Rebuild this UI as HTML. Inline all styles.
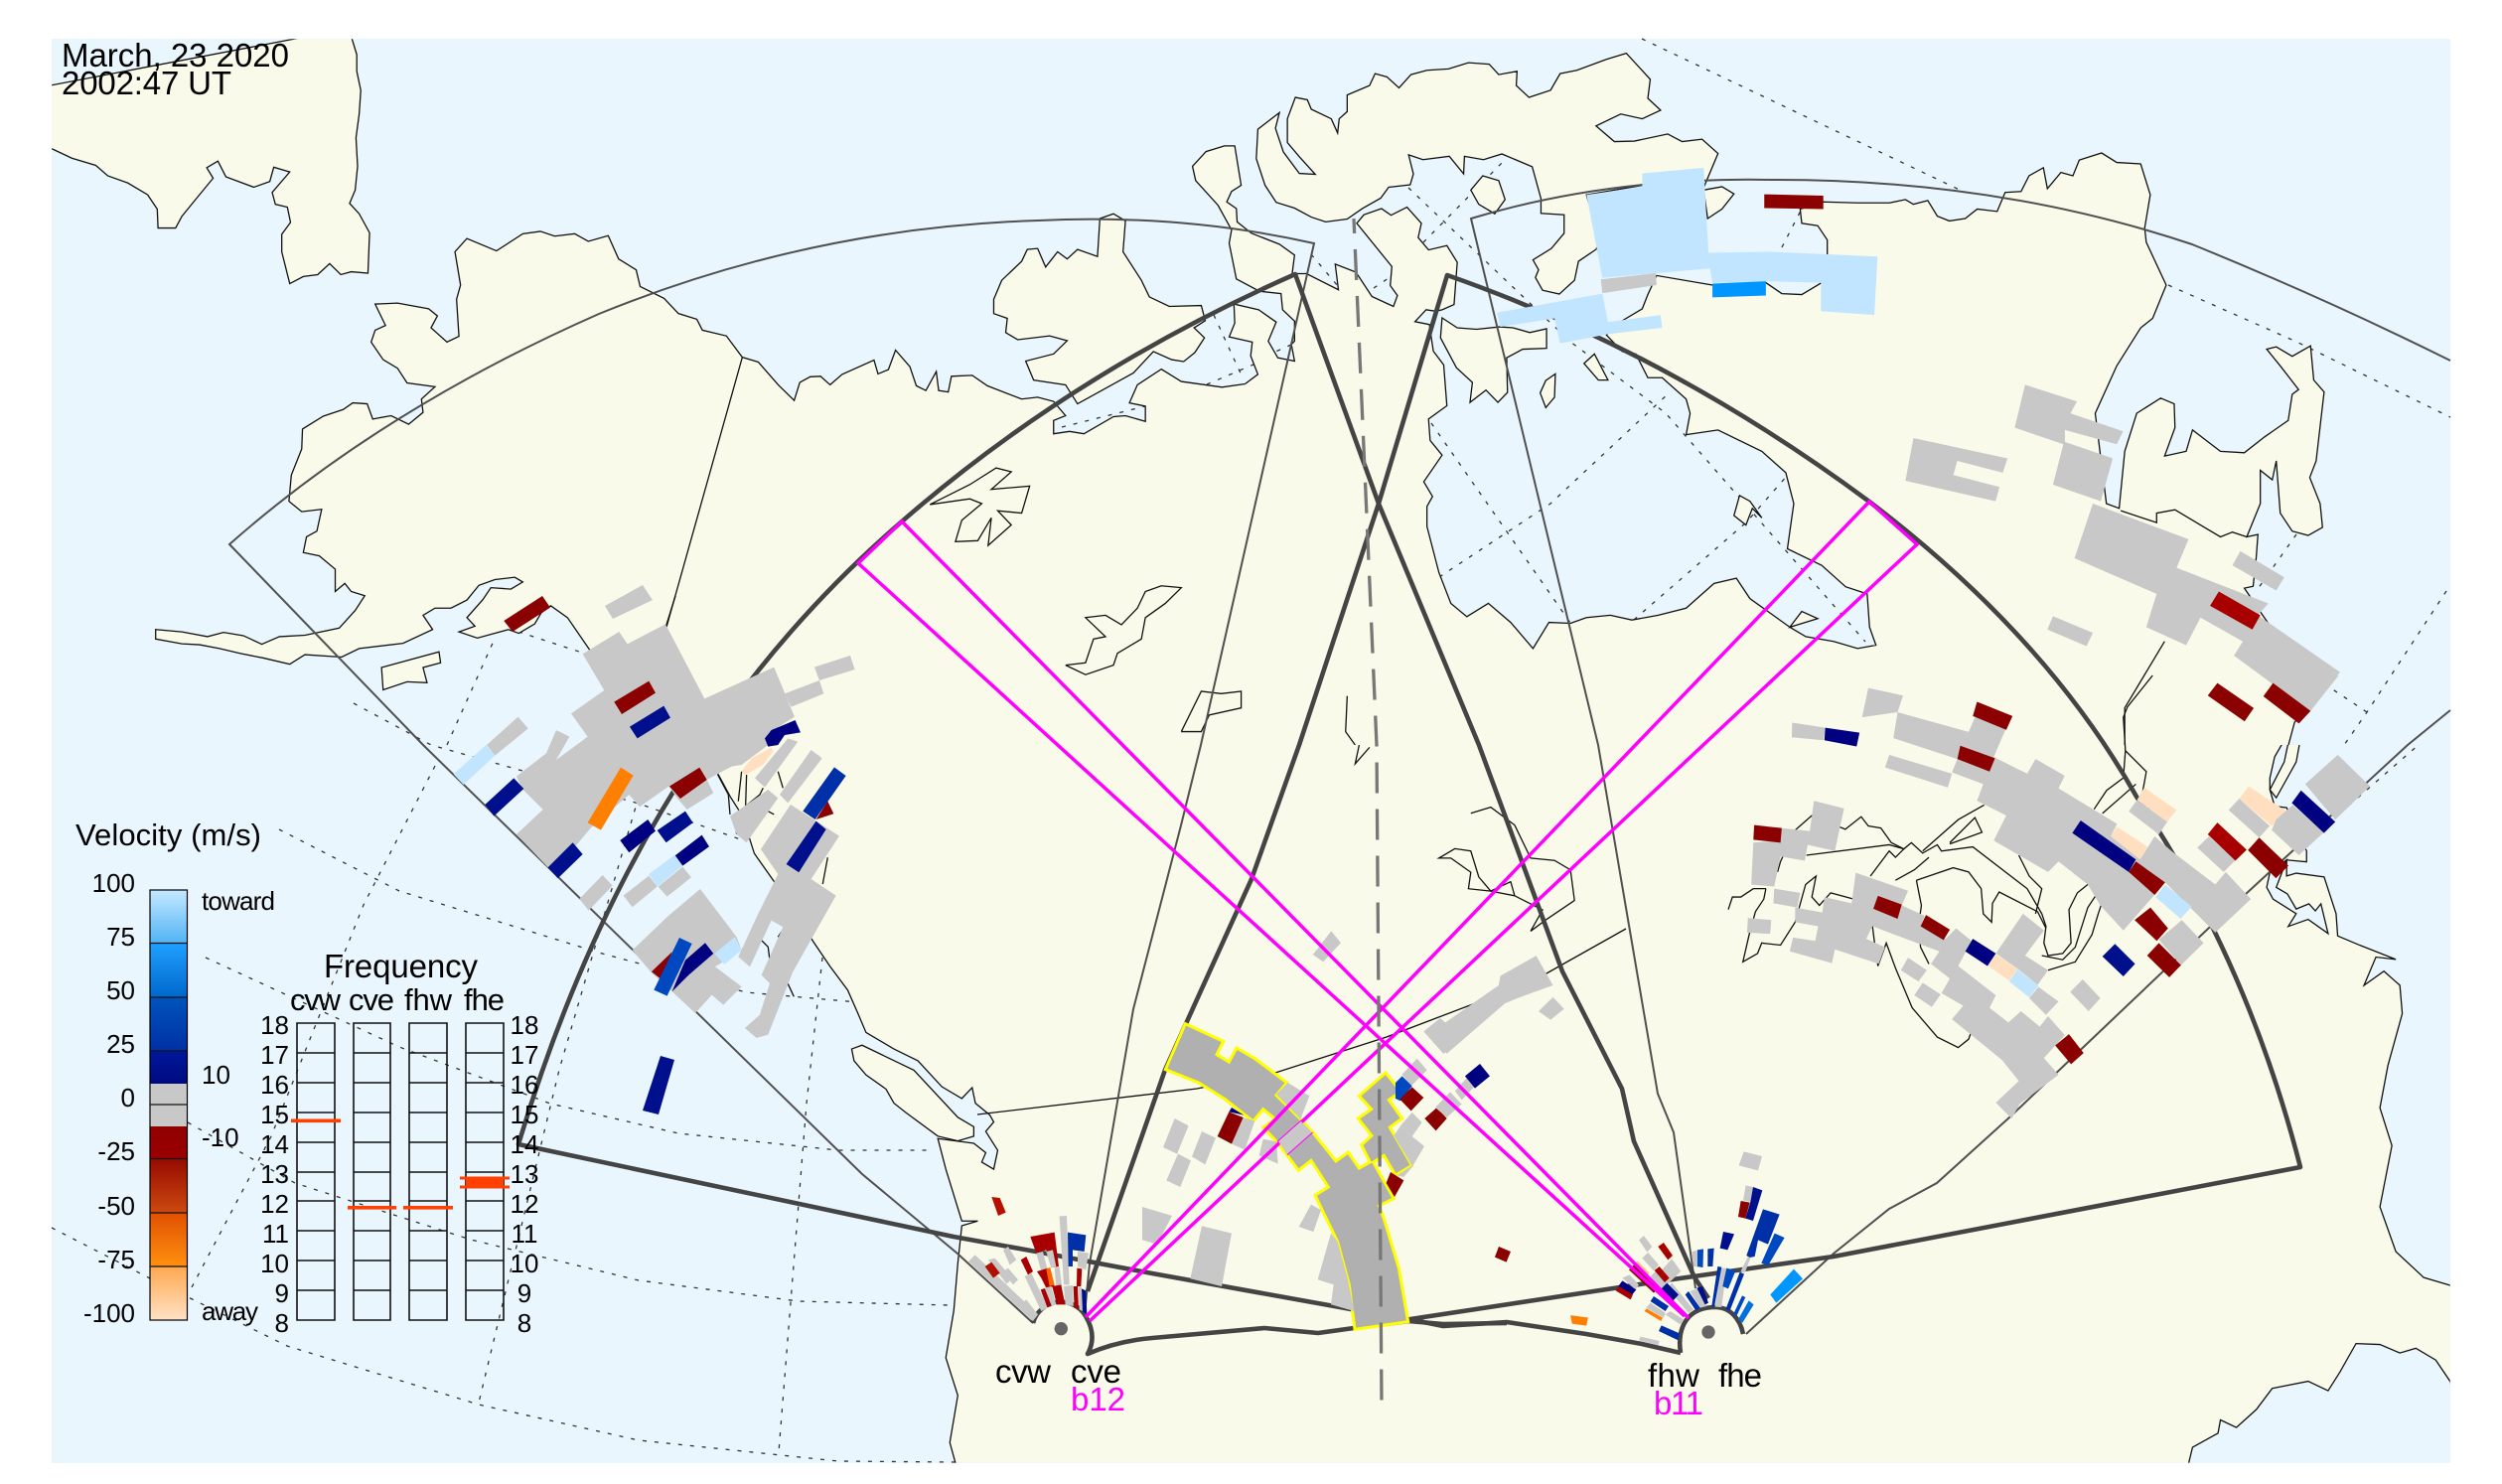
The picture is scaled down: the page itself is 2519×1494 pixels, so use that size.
<!DOCTYPE html>
<html><head><meta charset="utf-8"><style>
html,body{margin:0;padding:0;background:#fff}
svg{display:block}
text{font-family:"Liberation Sans",sans-serif;fill:#000}
.q *{vector-effect:non-scaling-stroke}
.l{fill:#f9fae9;stroke:#111;stroke-width:1.3}
.w{fill:#e9f6fe;stroke:#111;stroke-width:1.3}
.f{fill:#f9fae9;stroke:none}
.c{fill:none;stroke:#111;stroke-width:1.3}
.d{fill:none;stroke:#333;stroke-width:1.3;stroke-dasharray:4 8}
.t{fill:none;stroke:#505050;stroke-width:2}
.k{fill:none;stroke:#444;stroke-width:4.6;stroke-linejoin:round}
.m{fill:none;stroke:#ff00ff;stroke-width:3.5}
.g{fill:#c8c8c8}.r{fill:#8b0000}.R{fill:#a80000}.n{fill:#00108c}.v{fill:#000080}.b{fill:#0030a8}.B{fill:#0048c0}.L{fill:#c2e5ff}.P{fill:#ffdfc0}.O{fill:#ff7f00}.C{fill:#0096ff}
</style></head><body>
<svg xmlns="http://www.w3.org/2000/svg" width="2519" height="1494" viewBox="0 0 2519 1494">
<defs>
<clipPath id="c1"><rect x="65" y="82" width="1503" height="1486"/></clipPath>
<clipPath id="c2"><rect x="-200" y="82" width="1703" height="1486"/></clipPath>
<clipPath id="c3"><rect x="65" y="0" width="1503" height="1523"/></clipPath>
<clipPath id="c4"><rect x="0" y="0" width="1503" height="1523"/></clipPath>
<linearGradient id="cb" gradientUnits="userSpaceOnUse" x1="0" y1="896" x2="0" y2="1329">
<stop offset="0" stop-color="#c5e8ff"/><stop offset=".1236" stop-color="#50b4f5"/>
<stop offset=".1236" stop-color="#20a0ff"/><stop offset=".2494" stop-color="#0068cc"/>
<stop offset=".2494" stop-color="#0054bc"/><stop offset=".3741" stop-color="#0030a4"/>
<stop offset=".3741" stop-color="#00189a"/><stop offset=".4503" stop-color="#000a80"/>
<stop offset=".4503" stop-color="#c8c8c8"/><stop offset=".5497" stop-color="#c8c8c8"/>
<stop offset=".5497" stop-color="#900000"/><stop offset=".6247" stop-color="#9a0000"/>
<stop offset=".6247" stop-color="#960a00"/><stop offset=".7506" stop-color="#cc4a10"/>
<stop offset=".7506" stop-color="#e05000"/><stop offset=".8753" stop-color="#ff9010"/>
<stop offset=".8753" stop-color="#ffa850"/><stop offset="1" stop-color="#ffe2c4"/>
</linearGradient>
</defs>
<rect width="2519" height="1494" fill="#fff"/>
<rect x="52" y="39" width="2415" height="1434" fill="#e9f6fe"/>

<!-- dotted graticule under land -->
<g class="q">
<polyline class="d" points="1653,39 1979,194"/>
<polyline class="d" points="2183,287 2312,344 2467,420"/>
<polyline class="d" points="2463,595 2383,717 2358,753"/>
<polyline class="d" points="2312,538 2273,593"/>
<polyline class="d" points="2383,717 2347,693"/>
<polyline class="d" points="1441,426 1581,627"/>
<polyline class="d" points="1449,581 1561,507 1681,395"/>
<polyline class="d" points="1418,189 1581,344 1677,416 1878,646"/>
<polyline class="d" points="1645,624 1758,526 1800,478"/>
<polyline class="d" points="1433,244 1513,163"/>
<polyline class="d" points="1794,249 1814,210"/>
<polyline class="d" points="1320,256 1347,288"/>
<polyline class="d" points="1383,290 1398,280"/>
<polyline class="d" points="1300,347 1282,355"/>
<polyline class="d" points="281,835 402,897 603,959 751,999 864,1009"/>
<polyline class="d" points="207,964 402,1054 554,1111 683,1141 844,1158 940,1158"/>
<polyline class="d" points="189,1130 297,1191 474,1248 643,1289 804,1310 956,1314"/>
<polyline class="d" points="52,1236 153,1288 289,1355 482,1414 643,1450 844,1471 964,1472"/>
<polyline class="d" points="438,771 366,911 273,1144 193,1296"/>
<polyline class="d" points="643,802 563,1077 482,1412"/>
<polyline class="d" points="828,964 812,1111 784,1462"/>
<polyline class="d" points="450,750 498,643"/>
<polyline class="d" points="522,636 583,656"/>
<polyline class="d" points="356,708 434,750 643,809 751,847"/>
<polyline class="d" points="1069,430 1117,418 1153,409"/>
<polyline class="d" points="1215,387 1262,367"/>
<polyline class="d" points="1222,317 1250,378"/>
</g>

<!-- Q1 -->
<g class="q" transform="matrix(.8036 0 0 .4783 0 0)" clip-path="url(#c1)">
<polygon class="l" points="0,200 437,60 447,115 447,150 452,190 450,240 446,290 448,350 445,400 438,428 450,450 463,490 461,575 440,572 427,578 413,555 398,578 380,582 363,597 353,530 353,493 364,468 360,436 345,430 341,405 363,362 343,352 338,382 318,394 283,372 273,339 259,353 267,375 245,420 228,455 220,480 198,480 197,440 185,410 160,385 135,370 120,348 90,333 65,313 0,280"/>
<polygon class="l" points="195,1325 228,1330 260,1340 280,1331 305,1338 328,1356 350,1340 382,1337 425,1322 445,1285 457,1254 440,1245 432,1228 420,1245 420,1198 400,1170 380,1163 384,1130 397,1118 403,1072 378,1077 362,1055 365,1000 378,945 379,903 405,876 430,862 442,848 460,850 467,882 490,875 512,893 530,868 528,840 545,814 510,806 498,775 480,757 465,720 470,695 483,685 470,640 498,638 537,650 548,665 540,690 560,720 575,708 572,630 577,600 570,530 585,502 622,528 655,492 677,487 695,497 720,492 737,508 762,496 775,545 797,568 802,603 832,628 850,660 873,672 880,695 910,707 930,752 950,762 975,810 995,843 1002,805 1015,793 1028,792 1040,810 1055,788 1095,758 1100,787 1113,778 1122,737 1140,772 1148,812 1160,822 1173,782 1176,822 1188,825 1192,792 1218,790 1237,812 1280,840 1300,836 1320,845 1335,875 1320,885 1320,913 1340,908 1358,913 1395,877 1410,875 1435,887 1435,855 1415,848 1425,810 1455,777 1480,803 1531,815 1560,808 1620,790 1620,1620 861,1620 738,1366 711,1300 690,1275 678,1290 670,1313 650,1333 637,1325 598,1343 575,1330 595,1318 585,1300 605,1262 615,1237 640,1240 655,1225 645,1215 620,1220 600,1232 585,1263 565,1280 545,1280 530,1295 542,1325 505,1354 450,1365 428,1383 382,1378 363,1398 330,1385 300,1375 275,1365 250,1357 228,1355 195,1345"/>
<polygon class="l" points="1378,460 1395,450 1410,465 1407,530 1430,590 1440,625 1465,645 1505,643 1510,675 1496,690 1509,711 1497,742 1483,761 1468,757 1445,740 1420,785 1350,850 1335,810 1295,800 1285,760 1320,745 1337,717 1315,707 1275,715 1260,700 1262,670 1245,660 1245,630 1255,590 1280,550 1287,525 1300,523 1310,562 1325,530 1337,545 1350,525 1375,540"/>
<polygon class="l" points="478,1405 550,1372 552,1395 530,1405 535,1437 510,1435 480,1452"/>
<polyline class="c" points="1165,1062 1215,1020 1248,985 1267,993 1242,1030 1290,1023 1280,1080 1250,1075 1267,1105 1238,1148 1242,1090 1225,1138 1197,1140 1205,1095 1230,1060 1215,1050 1165,1062"/>
<polyline class="c" points="1335,1400 1360,1395 1370,1345 1385,1340 1360,1300 1385,1295 1405,1315 1425,1280 1435,1245 1455,1233 1480,1237 1460,1270 1435,1300 1430,1345 1400,1375 1395,1400 1360,1420 1335,1400"/>
<polyline class="c" points="1480,1540 1505,1455 1530,1460 1555,1455 1555,1490 1515,1505 1505,1540 1480,1540"/>
<polyline class="c" points="930,752 835,1320"/>
</g>

<!-- Q2 -->
<g class="q" transform="matrix(.8029 0 0 .4783 1260 0)" clip-path="url(#c2)">
<polygon class="l" points="120,200 148,180 155,155 170,162 185,185 200,157 220,148 247,145 272,132 298,135 310,157 333,150 332,180 348,205 375,190 387,155 408,148 445,125 470,112 500,167 497,207 513,232 490,250 463,240 432,265 455,298 480,297 522,282 540,298 565,293 585,323 567,395 490,390 420,410 437,510 432,525 410,550 405,590 399,599 386,619 365,611 356,584 360,568 353,547 376,523 392,491 392,452 363,449 363,418 352,351 314,324 291,336 267,329 266,366 248,329 215,336 197,326 203,366 199,389 172,394 162,417 139,439 120,461 93,467 75,457 54,438 31,426 17,390 6,334 8,272 35,237 30,270 40,320 60,365 80,367 60,330 45,300 45,250 55,205 70,210 75,230 100,250 108,280 110,250 120,235"/>
<polygon class="l" points="567,400 590,393 605,408 590,440 572,460"/>
<polyline class="l" points="-8,808 8,788 -1,749 1,720 -28,709 -21,680 -22,640 9,652 31,678 21,718 33,753 54,760 50,725 54,718 54,676 39,652 37,618 10,613 -19,587 -28,512 -25,484 -42,432 -70,380 -74,350 -57,319 -34,307 -21,307 -13,390 -25,403 -31,425 -19,439 -18,467 0,491 35,514 54,537 51,576 69,576 109,610 105,556 131,573 151,624 178,645 183,622 174,601 176,561 132,470 141,452 163,439 175,453 195,436 213,470 209,500 222,526 245,517 258,552 254,641 239,652 231,655 219,652 205,677 223,683 228,739 241,768 245,854 222,882 224,927 239,958 216,1014 227,1045 220,1066 220,1108 235,1205 250,1270 270,1298 297,1270 325,1310 353,1365 373,1310 400,1312 420,1300 450,1295 477,1305 510,1295 545,1280 580,1228 608,1217 625,1260 650,1290 675,1320 695,1340 730,1350 760,1365 783,1358 775,1320 772,1250 745,1235 715,1190 672,1155 680,1060 670,995 640,950 585,905 545,915 550,870 545,840 515,795 497,795 482,745 465,740 445,705 460,680 490,650 497,620 508,580 578,600 600,600 645,595 665,618 690,620 715,595 722,535 722,505 710,475 690,470 688,440 717,425 760,427 800,427 820,420 830,430 848,422 860,455 875,465 895,460 910,440 935,445 945,405 965,403 975,370 993,353 998,397 1015,363 1030,370 1038,337 1066,322 1085,342 1115,345 1127,410 1120,480 1122,510 1147,600 1130,670 1115,690 1085,770 1058,870 1072,1060 1088,1070 1095,950 1110,870 1140,838 1157,850 1158,900 1145,960 1172,950 1180,905 1215,950 1245,953 1270,920 1300,885 1305,830 1313,820 1290,770 1273,735 1285,730 1305,750 1328,728 1332,800 1345,825 1335,970 1327,1005 1340,1060 1343,1110 1325,1127 1305,1118 1290,1080 1285,970 1280,1010 1265,990 1265,1060 1248,1130 1262,1125 1260,1171 1256,1234 1245,1238 1270,1300 1320,1420 1330,1480 1308,1520 1300,1570 1295,1620 -8,1620"/>
<polygon class="l" points="239,669 258,690 282,693 311,688 328,690 349,700 370,692 370,733 340,735 320,753 321,826 309,847 294,821 274,847 277,805 257,774 237,711"/>
<polygon class="l" points="275,400 290,370 310,380 318,420 305,450 285,430"/>
<polygon class="l" points="417,765 430,745 447,800 435,800"/>
<polygon class="l" points="362,827 369,801 381,787 380,836 369,858"/>
<polygon class="l" points="605,1085 612,1043 625,1055 640,1090 628,1070 620,1105"/>
<polygon class="l" points="675,1320 690,1287 710,1302"/>
<polyline class="c" points="120,1465 118,1540 130,1568"/>
<polyline class="c" points="1145,1350 1095,1490 1095,1600"/>
<polyline class="c" points="1090,1075 1135,1100 1135,1080 1158,1073 1190,1105 1215,1130 1230,1120 1248,1130"/>
</g>

<!-- Q3 -->
<g class="q" transform="matrix(.8036 0 0 .4745 0 750)" clip-path="url(#c3)">
<polygon class="l" points="861,-30 900,63 915,110 930,150 945,230 970,290 1020,420 1040,470 1062,520 1075,570 1085,610 1120,645 1150,670 1180,725 1205,750 1218,727 1222,760 1240,785 1245,800 1235,820 1250,860 1245,900 1230,885 1235,865 1220,845 1175,835 1185,900 1205,1010 1225,1010 1205,1020 1200,1100 1195,1200 1185,1300 1200,1380 1190,1480 1203,1560 1620,1560 1620,-30"/>
<polygon class="l" points="1067,645 1080,637 1145,690 1200,790 1220,810 1220,830 1200,840 1175,830 1135,780 1120,760 1110,730 1085,700 1070,670"/>
</g>

<!-- Q4 -->
<g class="q" transform="matrix(.8029 0 0 .4745 1260 750)" clip-path="url(#c4)">
<rect class="f" x="-5" y="-5" width="1600" height="1600"/>
<polygon class="w" points="1308,-48 1283,25 1277,70 1277,95 1283,130 1298,133 1323,225 1323,248 1298,244 1298,278 1310,272 1345,280 1360,358 1362,405 1390,425 1435,455 1410,450 1395,510 1420,480 1440,510 1443,570 1425,680 1415,770 1430,850 1415,980 1435,1075 1470,1130 1540,1165 1540,-48"/>
<polygon class="w" points="1298,244 1277,270 1273,302 1281,327 1310,358 1300,385 1325,370 1350,400 1341,337 1334,352 1326,337 1310,348 1299,316 1285,302"/>
<polygon class="l" points="1300,-4 1315,-10 1310,36 1285,112 1277,95 1295,36"/>
<polygon class="w" points="1170,1560 1180,1490 1212,1460 1215,1432 1235,1448 1260,1410 1280,1365 1325,1350 1350,1370 1365,1330 1385,1270 1415,1272 1440,1290 1460,1280 1485,1305 1503,1350 1540,1560"/>
<polyline class="d" points="1470,-10 1375,130"/>
<polyline class="c" points="275,145 300,132 330,170 350,240 380,245 400,265 405,330 370,370 350,395 365,350 330,320 300,310 272,305 275,270 250,240 235,240 255,220 275,225 285,280 300,310 325,290 330,320"/>
<polyline class="c" points="135,0 130,40 148,5"/>
</g>

<!-- Z9 lakes & borders -->
<g class="q" transform="matrix(.4209 0 0 .4209 1740 680)">
<polyline class="c" points="118,470 125,445 160,370 200,335 280,368 318,338 335,360 365,365 390,400 420,415 438,400 465,425 500,405 510,420 585,410 715,510 750,570 760,600 755,640 765,670 800,665 820,640 815,560 835,520 885,480 915,420"/>
<polyline class="c" points="187,430 385,405 420,415"/>
<polyline class="c" points="340,480 385,420 400,435 420,415"/>
<polyline class="c" points="450,490 538,460 575,470 605,510 610,570 630,590 632,545 648,518 740,565 760,605"/>
<polyline class="c" points="400,490 445,465 480,435"/>
<polyline class="c" points="450,490 462,550 455,600 460,650 480,690"/>
<polyline class="c" points="90,510 85,535 65,565 50,620 35,685 70,665 80,640 125,645 160,590 185,500 210,480 200,530 218,550 245,520 300,535"/>
<polyline class="c" points="345,600 350,640 358,695 378,640 400,700 440,795 500,865 550,890 575,870 582,850"/>
<polyline class="c" points="530,400 590,340 607,375 530,403"/>
<polyline class="c" points="465,420 550,345 612,310"/>
<polyline class="c" points="695,430 720,480 750,510 735,570"/>
<polyline class="c" points="765,705 830,685 870,620 885,570 925,450 880,455"/>
<polyline class="c" points="750,670 800,680 830,650 860,555 890,510"/>
<polyline class="c" points="875,320 905,275 945,245 950,180 1000,230 990,285 1030,370"/>
<polyline class="c" points="950,180 945,100 955,75 1015,0"/>
<polyline class="c" points="895,330 975,260"/>
<polyline class="c" points="0,560 10,530 30,530 60,510 90,510"/>
</g>
<!-- Z8 coast lines -->
<g class="q" transform="translate(440 600) scale(.3333)">
<polyline class="c" points="848,540 880,600 885,660"/>
<polyline class="c" points="920,530 910,620"/>
<polyline class="c" points="935,540 932,635 975,600 985,580"/>
<polyline class="c" points="1000,650 1018,660"/>
<polyline class="c" points="905,720 900,680"/>
<polyline class="c" points="1030,530 1045,580"/>
<polyline class="c" points="1180,790 1165,870"/>
<polyline class="c" points="1035,810 1045,830"/>
<polyline class="c" points="980,1040 1000,1060 1005,1100"/>
<polyline class="c" points="1050,1000 1030,1030"/>
<polyline class="c" points="1050,1150 1078,1210"/>
<polyline class="c" points="720,0 692,90"/>
</g>
<!-- border thin -->
<polyline class="q c" points="984,1122 1205,1096 1284,1080 1396,1044 1501,1004 1557,980 1637,935"/>

<!-- thin FOV -->
<path class="t" d="M1040,1332 L964,1262 868,1182 426,750 231,548 Q385,412 603,316 Q816,229 1045,222 Q1190,215 1323,245 L1209,750 1189,831 1141,1016 1097,1272 1092,1323"/>
<path class="t" d="M1707,1297 L1685,1140 1669,1101 1609,750 1481,220 Q1620,178 1782,181 Q2010,180 2207,246 Q2340,300 2467,363"/>
<polyline class="t" points="2467,715 2424,750 2223,935 2023,1125 1950,1191 1902,1217 1846,1262 1758,1343"/>
<!-- thick FOV -->
<path class="k" d="M1692,1362 L1653,1353 1597,1343 1517,1331 1453,1335 1418,1328 1360,1318 1160,1282 1043,1260 960,1245 522,1152 Q641,755 908,525 Q1080,375 1304,276 L1388,507 1489,750 1573,978 1633,1096 1645,1149 1706,1286 1720,1307"/>
<path class="k" d="M1095,1300 L1173,1077 1260,885 1308,750 1388,507 1457,277 Q1680,355 1882,505 Q2060,640 2151,802 Q2262,965 2316,1175 L1846,1265 1677,1289 1420,1328"/>
<path class="k" d="M1692,1362 C1688,1335 1700,1316 1727,1316 C1742,1316 1752,1328 1755,1343"/>
<path class="k" d="M1040,1332 A29,29 0 0 1 1093,1325 Q1105,1345 1095,1363 Q1125,1350 1160,1347 L1273,1337 1327,1342 1363,1337 1418,1330 1453,1333 1517,1332"/>

<!-- data z8 west -->
<g transform="translate(440 600) scale(.3333)">
<polygon class="g" points="440,175 550,108 575,145 690,85 808,310 1018,215 1080,365 1000,415 1000,450 920,510 890,515 815,555 835,595 755,645 725,610 700,575 612,637 580,600 465,700 360,825 335,820 240,720 320,645 260,585 240,545 330,475 360,405 400,425 360,495 455,425 405,355 505,285"/>
<polygon class="g" points="1050,295 1155,255 1168,295 1070,335"/>
<polygon class="g" points="1140,215 1248,180 1262,222 1155,255"/>
<polygon class="g" points="507,30 621,-33 651,12 531,69"/>
<polygon class="g" points="150,450 245,365 275,400 175,482"/>
<polygon class="L" points="50,538 148,450 175,482 80,570"/>
<polygon class="n" points="145,630 232,550 262,582 172,665"/>
<polygon class="r" points="535,320 640,257 660,293 558,357"/>
<polygon class="n" points="582,395 685,332 705,368 605,430"/>
<polygon class="O" points="455,685 555,518 593,542 495,707"/>
<polygon class="v" points="990,430 1010,405 1082,375 1098,412 1050,420 1030,450 1000,455"/>
<polygon class="P" points="920,530 950,490 1010,458 1015,470 985,510 932,540"/>
<polygon class="r" points="702,575 793,518 815,555 735,612"/>
<polygon class="r" points="202,75 318,0 342,35 228,108"/>
<polygon class="n" points="335,820 410,745 440,780 365,853"/>
<polygon class="v" points="553,738 637,675 660,710 580,775"/>
<polygon class="n" points="665,708 750,650 773,685 692,745"/>
<polygon class="v" points="718,785 800,722 822,757 742,815"/>
<polygon class="L" points="640,840 718,782 742,815 665,878"/>
<polygon class="g" points="563,905 640,845 665,878 590,940"/>
<polygon class="g" points="668,878 742,818 768,850 695,908"/>
<polygon class="g" points="430,915 500,843 530,875 458,950"/>
<polygon class="g" points="590,1070 700,965 795,885 905,1030 920,1070 840,1120 920,1180 865,1235 830,1205 780,1260 710,1195 650,1140"/>
<polygon class="r" points="648,1135 710,1075 680,1160"/>
<polygon class="v" points="710,1195 750,1100 810,1048 835,1080 760,1145"/>
<polygon class="B" points="655,1190 732,1032 770,1050 695,1208"/>
<polygon class="L" points="838,1080 900,1030 920,1070 868,1113"/>
<polygon class="g" points="885,665 1000,585 1030,610 935,745 905,720"/>
<polygon class="g" points="960,550 1060,430 1090,440 990,578"/>
<polygon class="g" points="1035,600 1130,465 1163,490 1060,625"/>
<polygon class="g" points="978,765 1068,630 1215,725 1130,855 1205,905 1075,1135 1000,1325 965,1335 930,1305 975,1265 1005,1170 980,1145 1045,1000 1010,980 945,1120 910,1090 970,960 1030,840"/>
<polygon class="r" points="1145,675 1180,620 1198,658"/>
<polygon class="b" points="1105,650 1200,517 1235,543 1142,675"/>
<polygon class="n" points="1055,810 1145,680 1175,705 1093,835"/>
</g>
<!-- isolated bar off the coast -->
<polygon class="n" points="647,1118 665,1063 679,1067 663,1122"/>

<!-- NE data -->
<g transform="matrix(.8029 0 0 .4783 1260 0)">
<polygon class="L" points="420,410 490,393 490,365 567,353 573,532 650,530 785,540 781,663 714,655 714,595 645,592 578,595 575,565 440,585"/>
<polygon class="g" points="438,588 507,575 508,600 440,617"/>
<polygon class="C" points="578,597 645,592 645,622 578,626"/>
<polygon class="L" points="308,658 440,618 447,678 513,663 515,690 448,703 387,723 380,670 312,688"/>
<polygon class="r" points="643,409 717,412 717,440 643,438"/>
<polygon class="g" points="970,810 1035,845 1027,870 1093,908 1085,935 1020,905 1020,930 1080,965 1065,1055 1005,1020 1018,935 957,900"/>
<polygon class="g" points="830,922 948,965 942,995 885,970 880,1000 938,1025 933,1055 820,1012"/>
<polygon class="g" points="1055,1060 1175,1135 1160,1195 1275,1270 1262,1295 1365,1415 1325,1495 1232,1380 1243,1350 1190,1300 1172,1358 1122,1320 1135,1250 1032,1175"/>
<polygon class="R" points="1213,1245 1265,1295 1255,1325 1202,1275"/>
<polygon class="g" points="1240,1160 1295,1215 1285,1243 1230,1190"/>
<polygon class="g" points="1005,1297 1055,1332 1047,1360 998,1325"/>
</g>

<!-- East data z9 -->
<g transform="matrix(.4209 0 0 .4209 1740 680)">
<polygon class="g" points="335,30 418,48 405,88 575,135 590,100 665,125 635,195 715,235 735,200 805,240 790,270 930,355 915,385 1000,410 985,440 1020,385 1060,420 1165,500 1190,470 1250,535 1165,615 1135,585 1105,555 1045,495 1015,530 945,610 890,550 860,500 790,445 765,470 635,395 665,335 595,300 610,260 535,232 548,200 395,150 405,88 320,100"/>
<polygon class="g" points="375,220 385,190 535,235 525,268"/>
<polygon class="g" points="153,113 232,125 228,155 152,148"/>
<polygon class="v" points="232,125 314,137 307,170 230,155"/>
<polygon class="r" points="595,63 680,97 665,130 585,97"/>
<polygon class="r" points="555,168 638,198 625,230 548,200"/>
<polygon class="P" points="995,268 1072,322 1050,350 978,298"/>
<polygon class="g" points="978,298 1050,350 1030,380 958,325"/>
<polygon class="P" points="930,362 1003,410 985,440 915,385"/>
<polygon class="v" points="843,347 975,440 958,470 823,377"/>
<polygon class="r" points="975,445 1045,495 1020,525 958,470"/>
<polygon class="L" points="1045,500 1108,553 1082,582 1022,530"/>
<polygon class="P" points="1245,265 1335,325 1300,360 1222,295"/>
<polygon class="g" points="1222,295 1295,360 1270,388 1197,322"/>
<polygon class="g" points="1122,412 1150,385 1213,442 1185,470"/>
<polygon class="R" points="1170,352 1240,417 1213,443 1147,380"/>
<polygon class="r" points="1270,388 1340,455 1310,485 1243,418"/>
<polygon class="g" points="1310,345 1350,310 1425,375 1365,430 1300,370"/>
<polygon class="v" points="1370,275 1452,350 1425,377 1348,305"/>
<polygon class="g" points="1380,260 1458,190 1535,265 1452,345"/>
<polygon class="g" points="1280,0 1460,0 1393,85 1303,18"/>
<polygon class="r" points="1170,18 1257,78 1235,110 1147,48"/>
<polygon class="r" points="1303,18 1393,85 1365,115 1280,50"/>
<polygon class="g" points="60,400 125,395 125,365 195,372 205,300 277,318 255,420 190,405 183,443 125,433 110,505 55,500"/>
<polygon class="r" points="62,358 128,365 125,400 60,393"/>
<polygon class="g" points="110,510 172,520 165,555 108,545"/>
<polygon class="g" points="47,580 103,585 100,618 45,615"/>
<polygon class="g" points="160,555 225,567 230,530 295,545 305,472 430,515 415,550 470,575 460,600 520,630 545,605 582,635 550,695 640,765 625,795 670,830 700,803 745,840 765,815 805,860 755,915 790,955 697,1025 678,1060 640,1022 695,970 655,920 535,822 562,790 510,760 530,725 485,690 505,660 345,600 330,630 375,650 360,690 255,655 248,688 147,660 155,627 208,635 215,600 160,590"/>
<polygon class="r" points="358,527 415,548 405,582 347,558"/>
<polygon class="r" points="473,573 530,608 515,633 460,600"/>
<polygon class="v" points="585,630 640,665 620,695 567,660"/>
<polygon class="g" points="640,665 705,570 755,610 710,670 765,705 740,740 690,700"/>
<polygon class="P" points="640,667 692,702 672,730 622,695"/>
<polygon class="L" points="692,703 742,742 720,770 672,732"/>
<polygon class="g" points="742,745 790,780 760,812 720,772"/>
<polygon class="g" points="430,675 475,705 455,732 413,705"/>
<polygon class="g" points="465,735 508,763 487,793 445,765"/>
<polygon class="r" points="815,858 850,903 820,930 782,885"/>
<polygon class="n" points="925,642 973,690 945,720 895,672"/>
<polygon class="g" points="848,727 890,772 862,803 818,757"/>
<polygon class="r" points="1010,555 1052,605 1025,635 972,585"/>
<polygon class="g" points="1030,632 1085,585 1137,640 1083,693"/>
<polygon class="r" points="1030,640 1083,693 1055,722 1002,670"/>
</g>

<!-- center data z10 -->
<g transform="translate(1150 1000) scale(.3333)">
<polygon points="130,92 245,145 225,185 262,207 285,165 340,197 437,270 405,308 478,380 515,420 585,507 622,480 655,528 688,510 662,458 693,430 652,378 692,350 655,310 735,240 782,297 745,322 785,378 748,405 815,520 765,550 730,490 698,510 760,620 715,642 730,680 775,830 803,992 642,1015 625,880 590,750 522,610 562,585 510,505 472,535 437,488 403,445 365,405 402,380 365,350 335,387 250,320 170,270 70,230" fill="#b0b0b0" stroke="#ffff00" stroke-width="9"/>
<polygon class="g" points="440,270 505,310 478,380 405,305"/>
<polygon class="g" points="98,378 140,400 105,485 63,465"/>
<polygon class="g" points="180,417 222,437 190,517 150,493"/>
<polygon class="g" points="108,485 147,505 115,585 73,565"/>
<polygon class="g" points="0,645 90,672 45,758 0,745"/>
<polygon class="g" points="180,703 270,725 240,885 145,862"/>
<polygon class="g" points="510,638 540,655 517,720 473,705"/>
<polygon class="g" points="570,725 590,750 620,860 640,960 570,940 578,880 530,865"/>
<polygon class="g" points="365,440 405,448 410,515 353,490"/>
<polygon class="g" points="305,375 340,385 310,473 270,455"/>
<polygon class="v" points="270,345 307,368 262,358"/>
<polygon class="r" points="262,358 305,375 270,455 227,432"/>
<polygon class="g" points="850,115 900,75 930,100 1090,0 1170,0 1060,45 910,183"/>
<polygon class="g" points="785,245 830,197 860,232 812,280"/>
<polygon class="B" points="765,270 785,250 815,280 780,325 765,318"/>
<polygon class="r" points="778,320 815,283 850,315 812,355"/>
<polygon class="g" points="780,400 815,360 845,390 815,432"/>
<polygon class="g" points="760,430 780,400 815,432 852,462 815,525 790,555 770,550 815,520"/>
<polygon class="r" points="853,378 890,345 920,378 887,415"/>
<polygon class="g" points="885,345 930,298 965,335 920,375"/>
<polygon class="g" points="945,295 985,250 1005,280 965,322"/>
<polygon class="v" points="975,250 1020,213 1050,250 1005,287"/>
<polygon class="r" points="737,573 750,540 790,565 762,615"/>
<polygon class="r" points="1077,765 1113,780 1100,812 1065,797"/>
</g>
<!-- Q4 misc data -->
<g transform="matrix(.8029 0 0 .4745 1260 750)">
<polygon class="g" points="225,610 310,510 312,490 357,447 378,510 320,545 245,655 222,620"/>
<polygon class="g" points="378,535 392,560 375,583 360,565"/>
<polygon class="g" points="77,445 100,395 112,420 90,460"/>
<polygon class="O" points="400,1210 422,1215 420,1232 402,1228"/>
</g>

<!-- cv fan z6 -->
<g transform="translate(960 1200) scale(.3333)">
<polygon points="115,15 140,18 158,62 135,72" fill="#b81000"/>
<polygon class="g" points="45,210 65,190 255,370 240,390"/>
<polygon class="g" points="105,205 125,200 178,262 160,278"/>
<polygon points="95,225 115,212 140,245 120,260" fill="#b01000"/>
<polygon class="g" points="150,175 165,165 190,205 170,220"/>
<polygon class="g" points="150,240 165,230 195,265 180,280"/>
<polygon class="R" points="203,205 220,195 240,240 225,250"/>
<polygon class="g" points="215,255 235,245 285,350 265,360"/>
<polygon class="g" points="200,340 220,325 255,370 240,385"/>
<polygon class="R" points="232,135 305,122 318,225 300,228 280,175 250,185"/>
<polygon class="g" points="250,185 270,180 285,240 265,240"/>
<polygon class="g" points="280,180 300,175 310,225 295,230"/>
<polygon class="R" points="252,240 285,230 305,285 280,290 265,260"/>
<polygon points="280,232 292,228 305,280 290,285" fill="#ff6600"/>
<polygon class="g" points="305,230 320,225 327,280 310,285"/>
<polygon class="g" points="320,73 342,72 350,280 333,280"/>
<polygon class="b" points="345,122 400,130 395,180 360,175 360,225 347,225"/>
<polygon class="g" points="375,180 408,185 400,235 375,225"/>
<polygon class="R" points="373,230 388,232 385,285 372,285"/>
<polygon class="R" points="263,295 280,290 295,345 283,348"/>
<polygon class="g" points="275,290 295,285 310,340 297,345"/>
<polygon class="R" points="298,285 325,280 337,340 312,340"/>
<polygon class="g" points="333,285 360,282 362,345 338,340"/>
<polygon class="R" points="362,285 375,285 378,355 365,350"/>
<polygon class="g" points="378,287 387,288 390,360 380,355"/>
<polygon class="n" points="387,292 400,298 403,368 390,362"/>
<circle cx="325" cy="413" r="20" fill="#666"/>
</g>

<!-- fh fan z7 -->
<g transform="translate(1600 1140) scale(.3333)">
<polygon class="g" points="452,100 467,58 522,72 510,115"/>
<polygon class="g" points="465,205 473,160 495,165 487,210"/>
<polygon class="n" points="495,165 523,175 495,267 472,260 487,210"/>
<polygon class="r" points="458,207 485,212 472,260 450,255"/>
<polygon class="b" points="475,372 525,232 575,248 540,338 510,325 500,375 485,378"/>
<polygon class="B" points="520,395 560,305 590,318 540,403"/>
<polygon class="n" points="395,350 405,300 438,307 418,355"/>
<polygon class="g" points="458,418 480,375 487,380 470,425"/>
<polygon class="g" points="310,360 345,352 345,408 315,405"/>
<polygon class="B" points="327,355 345,352 343,408 327,405"/>
<polygon class="b" points="358,352 377,350 373,405 358,405"/>
<polygon class="g" points="380,527 398,410 415,410 400,528"/>
<polygon class="b" points="370,525 388,405 400,407 378,527"/>
<polygon class="B" points="403,465 415,410 442,418 420,472"/>
<polygon class="b" points="412,535 455,422 468,428 425,538"/>
<polygon class="B" points="435,550 462,493 472,498 445,555"/>
<polygon points="450,565 482,508 497,520 463,575" fill="#0070e0"/>
<polygon class="C" points="547,490 618,413 645,442 565,515"/>
<polygon class="g" points="150,325 165,312 190,345 175,362"/>
<polygon class="R" points="208,345 225,333 252,372 238,385"/>
<polygon class="g" points="160,380 178,363 210,400 195,418"/>
<polygon class="g" points="210,425 250,382 277,420 235,460"/>
<polygon class="g" points="180,440 200,420 235,460 215,480"/>
<polygon class="R" points="197,417 212,405 242,440 228,453"/>
<polygon points="130,410 145,388 182,425 170,440" fill="#ffc080"/>
<polygon class="g" points="100,440 122,430 150,460 140,475"/>
<polygon class="v" points="88,465 100,448 142,475 130,490"/>
<polygon class="R" points="80,478 90,465 132,490 125,505"/>
<polygon class="g" points="250,455 315,535 300,545 235,470"/>
<polygon class="n" points="215,475 235,455 270,490 252,510"/>
<polygon class="b" points="185,510 195,495 240,525 230,540"/>
<polygon class="g" points="172,530 185,515 230,545 225,560"/>
<polygon class="O" points="167,540 173,532 222,560 217,570"/>
<polygon class="g" points="230,550 245,540 285,565 275,580"/>
<polygon class="b" points="210,600 218,583 273,607 268,628"/>
<polygon class="g" points="150,628 155,617 212,630 208,643"/>
<polygon class="g" points="305,480 330,470 355,525 335,530"/>
<polygon class="b" points="290,490 300,480 335,530 322,538"/>
<polygon class="n" points="325,470 342,465 360,515 350,520"/>
<polygon class="r" points="120,415 135,400 210,470 195,485"/>
<circle cx="360" cy="603" r="20" fill="#666"/>
</g>

<!-- beams -->
<polyline class="m" points="1700,1327 908,525 864,567 1696,1325"/>
<polyline class="m" points="1093,1326 1882,505 1930,548 1097,1330"/>
<!-- cell drawn over the beams, as in the source plot -->
<g transform="translate(1150 1000) scale(.3333)">
<polygon class="g" points="410,445 478,385 515,422 438,488"/>
<path d="M408,448 L480,384 M438,488 L515,420" stroke="#ff00ff" stroke-width="3" fill="none"/>
</g>

<!-- dashed centre line -->
<polyline points="1363,220 1386,750 1391,1414" fill="none" stroke="#777" stroke-width="3.3" stroke-dasharray="31 16" stroke-dashoffset="16"/>

<!-- colorbar -->
<rect x="151" y="896" width="37.5" height="433" fill="url(#cb)" stroke="#000" stroke-width="1.2"/>
<path d="M151 949.5h37.5M151 1004h37.5M151 1058h37.5M151 1112h37.5M151 1166.5h37.5M151 1221h37.5M151 1275h37.5" stroke="#111" stroke-width="1.3" fill="none"/>

<!-- frequency boxes -->
<g fill="none" stroke="#111" stroke-width="1.6">
<path d="M299 1030h38v299h-38zM299 1060h38M299 1090h38M299 1120h38M299 1150h38M299 1180h38M299 1209h38M299 1239h38M299 1269h38M299 1299h38"/>
<path d="M356 1030h37v299h-37zM356 1060h37M356 1090h37M356 1120h37M356 1150h37M356 1180h37M356 1209h37M356 1239h37M356 1269h37M356 1299h37"/>
<path d="M412 1030h38v299h-38zM412 1060h38M412 1090h38M412 1120h38M412 1150h38M412 1180h38M412 1209h38M412 1239h38M412 1269h38M412 1299h38"/>
<path d="M469 1030h38v299h-38zM469 1060h38M469 1090h38M469 1120h38M469 1150h38M469 1180h38M469 1209h38M469 1239h38M469 1269h38M469 1299h38"/>
</g>
<g fill="#ff4000">
<rect x="293" y="1126.5" width="50" height="3.6"/>
<rect x="350" y="1214" width="49" height="3.6"/>
<rect x="406" y="1214" width="50" height="3.6"/>
<rect x="469" y="1185" width="38" height="11"/>
<rect x="463" y="1184.5" width="50" height="3"/>
<rect x="463" y="1193.5" width="50" height="3"/>
</g>

<!-- text -->
<text x="62" y="67" font-size="33" textLength="229">March, 23 2020</text>
<text x="62" y="95" font-size="33" textLength="171">2002:47 UT</text>
<text x="76" y="851" font-size="31" textLength="187">Velocity (m/s)</text>
<g font-size="26" text-anchor="end">
<text x="136" y="898">100</text><text x="136" y="952">75</text><text x="136" y="1006">50</text><text x="136" y="1060">25</text><text x="136" y="1114">0</text><text x="136" y="1168">-25</text><text x="136" y="1223">-50</text><text x="136" y="1277">-75</text><text x="136" y="1331">-100</text>
</g>
<text x="203" y="916" font-size="26" textLength="74">toward</text>
<text x="203" y="1329" font-size="26" textLength="57">away</text>
<text x="203" y="1091" font-size="26">10</text>
<text x="203" y="1154" font-size="26">-10</text>
<text x="326" y="984" font-size="33" textLength="155">Frequency</text>
<text x="292" y="1017" font-size="31" textLength="51">cvw</text>
<text x="351" y="1017" font-size="31" textLength="46">cve</text>
<text x="407" y="1017" font-size="31" textLength="48">fhw</text>
<text x="467" y="1017" font-size="31" textLength="41">fhe</text>
<g font-size="26" text-anchor="end">
<text x="291" y="1041">18</text><text x="291" y="1071">17</text><text x="291" y="1101">16</text><text x="291" y="1131">15</text><text x="291" y="1161">14</text><text x="291" y="1191">13</text><text x="291" y="1221">12</text><text x="291" y="1251">11</text><text x="291" y="1281">10</text><text x="291" y="1311">9</text><text x="291" y="1341">8</text>
</g>
<g font-size="26" text-anchor="middle">
<text x="528" y="1041">18</text><text x="528" y="1071">17</text><text x="528" y="1101">16</text><text x="528" y="1131">15</text><text x="528" y="1161">14</text><text x="528" y="1191">13</text><text x="528" y="1221">12</text><text x="528" y="1251">11</text><text x="528" y="1281">10</text><text x="528" y="1311">9</text><text x="528" y="1341">8</text>
</g>
<text x="1002" y="1392" font-size="33" textLength="56">cvw</text>
<text x="1078" y="1392" font-size="33" textLength="51">cve</text>
<text x="1078" y="1420" font-size="33" textLength="55" style="fill:#ff00ff">b12</text>
<text x="1659" y="1396" font-size="33" textLength="52">fhw</text>
<text x="1730" y="1396" font-size="33" textLength="44">fhe</text>
<text x="1665" y="1424" font-size="33" textLength="50" style="fill:#ff00ff">b11</text>
</svg>
</body></html>
